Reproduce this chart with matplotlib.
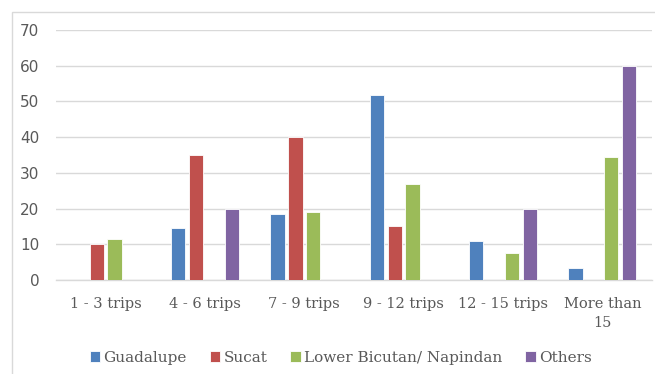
import matplotlib.pyplot as plt
import matplotlib.patches as patches
import numpy as np

# Trip-frequency categories and counts per origin
categories = ["1 - 3 trips", "4 - 6 trips", "7 - 9 trips", "9 - 12 trips",
              "12 - 15 trips", "More than\n15"]
series_names = ["Guadalupe", "Sucat", "Lower Bicutan/ Napindan", "Others"]
guadalupe = [0, 14.7, 18.4, 51.7, 10.8, 3.5]
sucat = [10, 35, 40, 15, 0, 0]
lower_bicutan = [11.5, 0, 19, 27, 7.7, 34.4]
others = [0, 20, 0, 0, 20, 60]
y_ticks = [0, 10, 20, 30, 40, 50, 60, 70]

colors = ["#4F81BD", "#C0504D", "#9BBB59", "#8064A2"]
text_color = "#595959"
grid_color = "#D9D9D9"

fig = plt.figure(figsize=(6.55, 3.74), dpi=100)
W, H = 655, 374

# light chart-area border (left and top edges)
fig.add_artist(patches.Rectangle((12 / W, -0.05), 1.2, (374 - 12) / H + 0.05,
                                 transform=fig.transFigure, fill=False,
                                 edgecolor=grid_color, linewidth=1.0))

ax = fig.add_axes([56 / W, (H - 280) / H, (652 - 56) / W, 250 / H])

x = np.arange(len(categories))
width = 0.145
step = 0.18
for i, (vals, name) in enumerate(zip([guadalupe, sucat, lower_bicutan, others], series_names)):
    offs = (i - 1.5) * step
    ax.bar(x + offs, vals, width, color=colors[i], edgecolor="white",
           linewidth=0.6, label=name, zorder=3)

ax.set_xlim(-0.5, len(categories) - 0.5)
ax.set_ylim(0, 70)
ax.set_yticks(y_ticks)
ax.yaxis.grid(True, color=grid_color, linewidth=1.0, zorder=0)
for s in ["top", "right", "left"]:
    ax.spines[s].set_visible(False)
ax.spines["bottom"].set_color(grid_color)
ax.spines["bottom"].set_linewidth(1.0)
ax.tick_params(axis="both", length=0, colors=text_color)
ax.tick_params(axis="y", labelsize=11, pad=12)
ax.set_yticklabels([str(t) for t in y_ticks], family="DejaVu Sans")
ax.set_xticks(x)
ax.set_xticklabels(categories, family="DejaVu Serif", fontsize=10.5,
                   linespacing=1.45)
ax.tick_params(axis="x", pad=12)

leg = fig.legend(loc="center", bbox_to_anchor=(0.52, (H - 358) / H), ncol=4,
                 frameon=False, prop={"family": "DejaVu Serif", "size": 11},
                 handlelength=0.7, handleheight=0.7, handletextpad=0.2,
                 columnspacing=1.5)
for t in leg.get_texts():
    t.set_color(text_color)

fig.savefig("out.png", dpi=100)
